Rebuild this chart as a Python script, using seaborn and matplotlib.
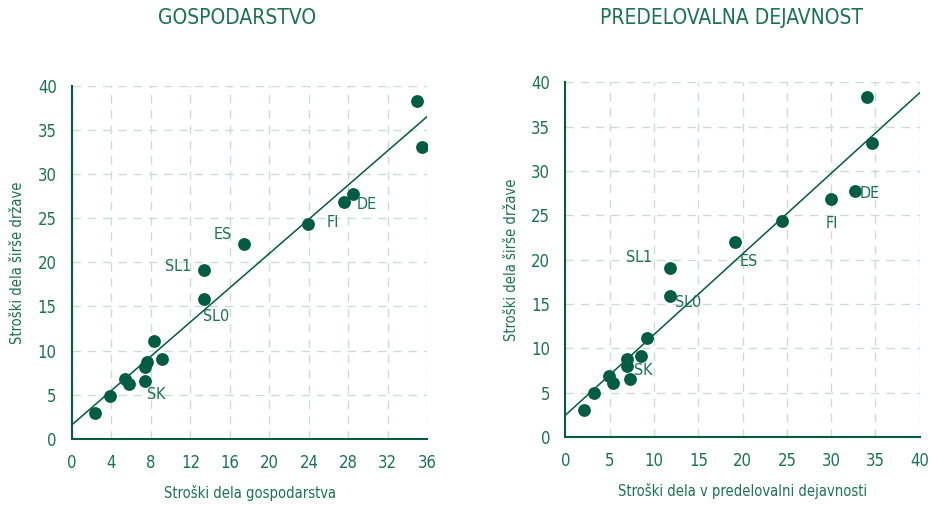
import numpy as np
import pandas as pd
import matplotlib
matplotlib.use("Agg")
import matplotlib.pyplot as plt
import seaborn as sns

# Podatki (odčitano s slike)
x_gosp = [2.3, 3.9, 5.4, 5.8, 7.4, 7.4, 7.6, 8.3, 9.1, 13.4, 13.4, 17.4, 23.9, 27.6, 28.5, 35.0, 35.5]
y_gosp = [2.9, 4.8, 6.8, 6.2, 6.5, 8.1, 8.7, 11.1, 9.1, 15.9, 19.1, 22.1, 24.4, 26.8, 27.7, 38.3, 33.1]
x_pred = [2.1, 3.2, 4.9, 5.4, 7.3, 7.0, 7.0, 9.2, 8.5, 11.8, 11.8, 19.1, 24.4, 30.0, 32.7, 34.0, 34.6]
y_pred = [3.0, 4.9, 6.9, 6.1, 6.5, 8.0, 8.8, 11.1, 9.1, 15.9, 19.1, 22.0, 24.4, 26.8, 27.7, 38.3, 33.1]

oznake = ["SK", "SL0", "SL1", "ES", "FI", "DE"]
oznake_gosp_x = [8.5, 14.6, 10.8, 15.3, 26.4, 29.9]
oznake_gosp_y = [5.0, 13.9, 19.5, 23.1, 24.5, 26.5]
oznake_pred_x = [8.8, 13.8, 8.3, 20.7, 30.1, 34.3]
oznake_pred_y = [7.5, 15.1, 20.2, 19.8, 24.1, 27.5]

naslovi = ["GOSPODARSTVO", "PREDELOVALNA DEJAVNOST"]
x_naslovi = ["Stroški dela gospodarstva", "Stroški dela v predelovalni dejavnosti"]
y_naslov = "Stroški dela širše države"
x_ticks_gosp = list(range(0, 37, 4))
x_ticks_pred = list(range(0, 41, 5))
y_ticks = list(range(0, 41, 5))

temna = "#005c42"
besedilo = "#1a7356"
mreza = "#c9ddd3"

sns.set_style("white")
plt.rcParams["font.family"] = ["DejaVu Sans"]
plt.rcParams["font.stretch"] = "condensed"

fig = plt.figure(figsize=(9.3, 5.05), dpi=100)
ax1 = fig.add_axes([0.0774, 0.131, 0.382, 0.699])
ax2 = fig.add_axes([0.608, 0.135, 0.381, 0.702])

panels = [
    (ax1, x_gosp, y_gosp, x_ticks_gosp, 36, oznake_gosp_x, oznake_gosp_y),
    (ax2, x_pred, y_pred, x_ticks_pred, 40, oznake_pred_x, oznake_pred_y),
]

for i, (ax, xs, ys, xt, xmax, lx, ly) in enumerate(panels):
    df = pd.DataFrame({"x": xs, "y": ys})
    ax.set_xlim(0, xmax)
    ax.set_ylim(0, 40)
    sns.regplot(data=df, x="x", y="y", ax=ax, ci=None, truncate=False,
                scatter_kws={"s": 85, "color": temna, "alpha": 1, "linewidths": 0, "zorder": 3},
                line_kws={"color": temna, "lw": 1.1, "zorder": 2})
    ax.set_xlim(0, xmax)
    ax.set_ylim(0, 40)
    ax.set_xticks(xt)
    ax.set_yticks(y_ticks)
    ax.grid(True, color=mreza, linestyle=(0, (6, 5)), lw=1.0)
    ax.set_axisbelow(True)
    for s in ["top", "right"]:
        ax.spines[s].set_visible(False)
    for s in ["left", "bottom"]:
        ax.spines[s].set_color(temna)
        ax.spines[s].set_linewidth(1.5)
    ax.tick_params(axis="both", colors=temna, labelcolor=besedilo, labelsize=12,
                   length=7, width=1.2, direction="out", pad=4)
    ax.set_xlabel(x_naslovi[i], fontsize=10.5, color=besedilo, labelpad=9)
    ax.set_ylabel(y_naslov, fontsize=10.5, color=besedilo, labelpad=9)
    for t, tx, ty in zip(oznake, lx, ly):
        ax.text(tx, ty, t, ha="center", va="center", fontsize=11.5, color=besedilo)

fig.text(0.255, 0.965, naslovi[0], ha="center", va="center", fontsize=15, color=besedilo)
fig.text(0.787, 0.965, naslovi[1], ha="center", va="center", fontsize=15, color=besedilo)

fig.savefig("out.png", dpi=100)
